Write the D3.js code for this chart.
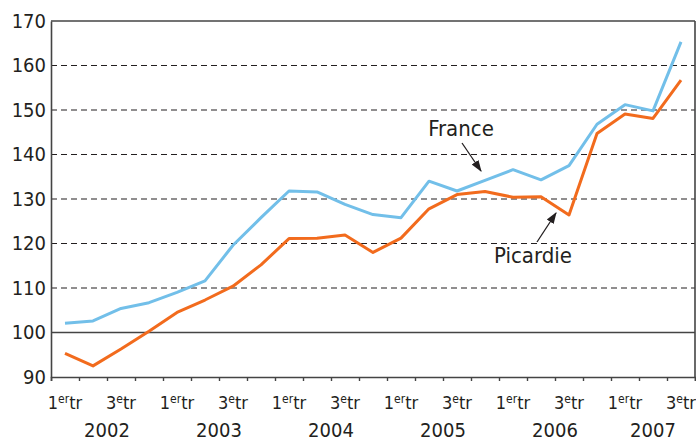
<html>
<head>
<script src="https://d3js.org/d3.v7.min.js"></script>
<style>
body { margin: 0; background: #fff; }
svg { display: block; }
text { font-family: "DejaVu Sans", sans-serif; font-stretch: condensed; fill: #231f20; }
.grid { stroke: #231f20; stroke-width: 1.2; stroke-dasharray: 6 4; }
.frame { stroke: #444; stroke-width: 1.6; fill: none; }
.serie { fill: none; stroke-width: 3; stroke-linejoin: round; }
</style>
</head>
<body>
<svg width="696" height="441"></svg>

<script>
// trimestres 2002 T1 -> 2007 T3
var years = ["2002", "2003", "2004", "2005", "2006", "2007"];
var quarters = [];
years.forEach(function (yr) {
	for (var q = 1; q <= 4; q++) {
		if (yr === "2007" && q > 3) break;
		quarters.push(yr + "-T" + q);
	}
});

var france = [102.1, 102.6, 105.4, 106.7, 109.0, 111.6, 119.6, 125.8, 131.8, 131.6, 128.8, 126.5,
              125.8, 134.0, 131.8, 134.2, 136.6, 134.3, 137.5, 146.8, 151.2, 149.8, 165.3];
var picardie = [95.3, 92.5, 96.3, 100.3, 104.5, 107.3, 110.4, 115.2, 121.1, 121.2, 121.9, 118.0,
                121.2, 127.8, 131.0, 131.7, 130.4, 130.5, 126.4, 144.7, 149.1, 148.1, 156.7];

var yTicks = [90, 100, 110, 120, 130, 140, 150, 160, 170];

var svg = d3.select("svg");
var mLeft = 51, mRight = 695, mTop = 21, mBottom = 377;

var x = d3.scaleBand().domain(quarters).range([mLeft, mRight]).padding(0);
var y = d3.scaleLinear().domain([90, 170]).range([mBottom, mTop]);
var edge = d3.scaleLinear().domain([0, quarters.length]).range([mLeft, mRight]);

// grille pointillée
svg.selectAll("line.grid").data([110, 120, 130, 140, 150, 160]).enter()
	.append("line").attr("class", "grid")
	.attr("x1", mLeft).attr("x2", mRight)
	.attr("y1", function (d) { return y(d); })
	.attr("y2", function (d) { return y(d); });

// ligne de base 100 + bord haut
svg.selectAll("line.solid").data([100, 170]).enter()
	.append("line").attr("class", "frame")
	.attr("x1", mLeft).attr("x2", mRight)
	.attr("y1", function (d) { return y(d); })
	.attr("y2", function (d) { return y(d); });

svg.append("line").attr("class", "frame")
	.attr("x1", mRight).attr("x2", mRight).attr("y1", mTop).attr("y2", mBottom);

// axe vertical
var yAxis = svg.append("g").attr("transform", "translate(" + mLeft + ",0)")
	.call(d3.axisLeft(y).tickValues(yTicks).tickSize(0).tickPadding(5));
yAxis.select(".domain").attr("stroke", "#444").attr("stroke-width", 1.6);
yAxis.selectAll("text").style("font-size", "20px").attr("fill", "#231f20");

// axe horizontal, graduations aux limites des trimestres
var xAxis = svg.append("g").attr("transform", "translate(0," + mBottom + ")")
	.call(d3.axisBottom(edge).tickValues(d3.range(quarters.length + 1)).tickSize(4).tickFormat(""));
xAxis.select(".domain").attr("stroke", "#444").attr("stroke-width", 1.6);
xAxis.selectAll(".tick line").attr("stroke", "#444").attr("stroke-width", 1.4);
yAxis.attr("font-family", null);
xAxis.attr("font-family", null);

// libellés de trimestres
var qLabels = svg.selectAll("text.qlab")
	.data(quarters.filter(function (d) { return /T[13]$/.test(d); }))
	.enter().append("text").attr("class", "qlab")
	.attr("x", function (d) { return x(d) + x.bandwidth() / 2; })
	.attr("y", 409)
	.attr("text-anchor", "middle")
	.style("font-size", "18px");
qLabels.append("tspan").text(function (d) { return d.slice(-1); });
qLabels.append("tspan").attr("dy", -6).style("font-size", "12px")
	.text(function (d) { return d.slice(-1) === "1" ? "er" : "e"; });
qLabels.append("tspan").attr("dy", 6).text("tr");

// années
svg.selectAll("text.year").data(years).enter()
	.append("text").attr("class", "year")
	.attr("x", function (yr) {
		var qs = quarters.filter(function (d) { return d.indexOf(yr) === 0; });
		return (x(qs[0]) + x(qs[qs.length - 1]) + x.bandwidth()) / 2;
	})
	.attr("y", 437)
	.attr("text-anchor", "middle")
	.style("font-size", "20px")
	.text(function (d) { return d; });

// courbes
var line = d3.line()
	.x(function (d, i) { return x(quarters[i]) + x.bandwidth() / 2; })
	.y(function (d) { return y(d); });

svg.append("path").attr("class", "serie").attr("stroke", "#72bfe9").attr("d", line(france));
svg.append("path").attr("class", "serie").attr("stroke", "#f26b1d").attr("d", line(picardie));

// annotations
svg.append("defs").append("marker")
	.attr("id", "fleche").attr("viewBox", "0 0 10 10")
	.attr("refX", 9).attr("refY", 5)
	.attr("markerWidth", 9).attr("markerHeight", 9)
	.attr("orient", "auto")
	.append("path").attr("d", "M0,1.5 L10,5 L0,8.5 Z").attr("fill", "#231f20");

svg.append("text").attr("x", 461).attr("y", 136).attr("text-anchor", "middle")
	.style("font-size", "22px").text("France");
svg.append("line").attr("x1", 462).attr("y1", 143).attr("x2", 481).attr("y2", 171)
	.attr("stroke", "#231f20").attr("stroke-width", 1.3).attr("marker-end", "url(#fleche)");

svg.append("text").attr("x", 533).attr("y", 263).attr("text-anchor", "middle")
	.style("font-size", "22px").text("Picardie");
svg.append("line").attr("x1", 537).attr("y1", 242).attr("x2", 556).attr("y2", 213)
	.attr("stroke", "#231f20").attr("stroke-width", 1.3).attr("marker-end", "url(#fleche)");
</script>
</body>
</html>
